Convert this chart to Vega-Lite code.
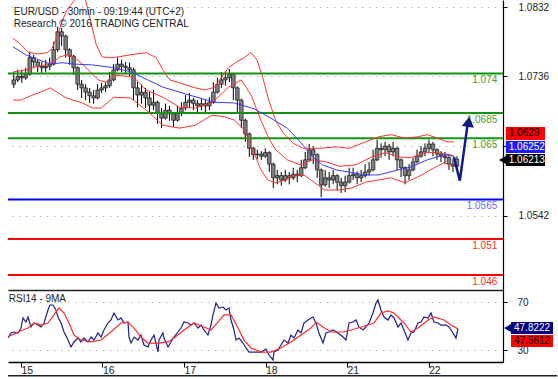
{
  "$schema": "https://vega.github.io/schema/vega-lite/v6.json",
  "background": "#ffffff",
  "padding": {"left": 7, "top": 0, "right": 0, "bottom": 0},
  "spacing": 0,
  "config": {
    "view": {"stroke": null},
    "font": "Liberation Sans",
    "axis": {"labelFont": "Liberation Sans", "labelFontSize": 10, "labelColor": "#222222", "domainColor": "#000000", "tickColor": "#000000", "title": null},
    "axisX": {"grid": false},
    "axisY": {"grid": true, "gridDash": [1.5, 5.5], "gridColor": "#b5b5b5", "gridWidth": 1.2}
  },
  "resolve": {"scale": {"color": "independent", "fill": "independent", "stroke": "independent"}},
  "datasets": {
    "bars": [
      {"t":-0.15,"o":1.0725,"h":1.0742,"l":1.0720,"c":1.0731},
      {"t":-0.10,"o":1.0731,"h":1.0745,"l":1.0728,"c":1.0736},
      {"t":-0.05,"o":1.0736,"h":1.0745,"l":1.0727,"c":1.0734},
      {"t":0.00,"o":1.0734,"h":1.0748,"l":1.0731,"c":1.0739},
      {"t":0.05,"o":1.0739,"h":1.0770,"l":1.0737,"c":1.0762},
      {"t":0.10,"o":1.0762,"h":1.0766,"l":1.0748,"c":1.0756},
      {"t":0.15,"o":1.0756,"h":1.0759,"l":1.0742,"c":1.0750},
      {"t":0.20,"o":1.0750,"h":1.0756,"l":1.0741,"c":1.0748},
      {"t":0.25,"o":1.0748,"h":1.0759,"l":1.0742,"c":1.0750},
      {"t":0.30,"o":1.0750,"h":1.0762,"l":1.0745,"c":1.0753},
      {"t":0.35,"o":1.0753,"h":1.0784,"l":1.0751,"c":1.0773},
      {"t":0.40,"o":1.0773,"h":1.0805,"l":1.0770,"c":1.0798},
      {"t":0.45,"o":1.0798,"h":1.0803,"l":1.0778,"c":1.0792},
      {"t":0.50,"o":1.0792,"h":1.0794,"l":1.0762,"c":1.0773},
      {"t":0.55,"o":1.0773,"h":1.0775,"l":1.0752,"c":1.0764},
      {"t":0.60,"o":1.0764,"h":1.0766,"l":1.0738,"c":1.0748},
      {"t":0.65,"o":1.0748,"h":1.0750,"l":1.0717,"c":1.0725},
      {"t":0.70,"o":1.0725,"h":1.0731,"l":1.0706,"c":1.0720},
      {"t":0.75,"o":1.0720,"h":1.0725,"l":1.0703,"c":1.0714},
      {"t":0.80,"o":1.0714,"h":1.0720,"l":1.0699,"c":1.0709},
      {"t":0.85,"o":1.0709,"h":1.0717,"l":1.0698,"c":1.0706},
      {"t":0.90,"o":1.0706,"h":1.0725,"l":1.0704,"c":1.0717},
      {"t":0.95,"o":1.0717,"h":1.0727,"l":1.0713,"c":1.0720},
      {"t":1.00,"o":1.0720,"h":1.0728,"l":1.0714,"c":1.0723},
      {"t":1.05,"o":1.0723,"h":1.0742,"l":1.0720,"c":1.0731},
      {"t":1.10,"o":1.0731,"h":1.0753,"l":1.0729,"c":1.0745},
      {"t":1.15,"o":1.0745,"h":1.0762,"l":1.0743,"c":1.0753},
      {"t":1.20,"o":1.0753,"h":1.0759,"l":1.0742,"c":1.0750},
      {"t":1.25,"o":1.0750,"h":1.0756,"l":1.0739,"c":1.0748},
      {"t":1.30,"o":1.0748,"h":1.0755,"l":1.0736,"c":1.0745},
      {"t":1.35,"o":1.0745,"h":1.0748,"l":1.0703,"c":1.0720},
      {"t":1.40,"o":1.0720,"h":1.0728,"l":1.0693,"c":1.0710},
      {"t":1.45,"o":1.0710,"h":1.0725,"l":1.0698,"c":1.0714},
      {"t":1.50,"o":1.0714,"h":1.0720,"l":1.0692,"c":1.0706},
      {"t":1.55,"o":1.0706,"h":1.0714,"l":1.0686,"c":1.0696},
      {"t":1.60,"o":1.0696,"h":1.0717,"l":1.0689,"c":1.0700},
      {"t":1.65,"o":1.0700,"h":1.0702,"l":1.0670,"c":1.0686},
      {"t":1.70,"o":1.0686,"h":1.0692,"l":1.0664,"c":1.0678},
      {"t":1.75,"o":1.0678,"h":1.0698,"l":1.0676,"c":1.0689},
      {"t":1.80,"o":1.0689,"h":1.0695,"l":1.0674,"c":1.0684},
      {"t":1.85,"o":1.0684,"h":1.0686,"l":1.0666,"c":1.0675},
      {"t":1.90,"o":1.0675,"h":1.0695,"l":1.0673,"c":1.0686},
      {"t":1.95,"o":1.0686,"h":1.0700,"l":1.0681,"c":1.0692},
      {"t":2.00,"o":1.0692,"h":1.0710,"l":1.0689,"c":1.0700},
      {"t":2.05,"o":1.0700,"h":1.0713,"l":1.0692,"c":1.0703},
      {"t":2.10,"o":1.0703,"h":1.0706,"l":1.0689,"c":1.0698},
      {"t":2.15,"o":1.0698,"h":1.0703,"l":1.0686,"c":1.0695},
      {"t":2.20,"o":1.0695,"h":1.0706,"l":1.0689,"c":1.0698},
      {"t":2.25,"o":1.0698,"h":1.0703,"l":1.0686,"c":1.0695},
      {"t":2.30,"o":1.0695,"h":1.0707,"l":1.0689,"c":1.0700},
      {"t":2.35,"o":1.0700,"h":1.0728,"l":1.0698,"c":1.0714},
      {"t":2.40,"o":1.0714,"h":1.0734,"l":1.0712,"c":1.0725},
      {"t":2.45,"o":1.0725,"h":1.0742,"l":1.0720,"c":1.0731},
      {"t":2.50,"o":1.0731,"h":1.0743,"l":1.0723,"c":1.0734},
      {"t":2.55,"o":1.0734,"h":1.0746,"l":1.0728,"c":1.0739},
      {"t":2.60,"o":1.0739,"h":1.0741,"l":1.0703,"c":1.0720},
      {"t":2.65,"o":1.0720,"h":1.0722,"l":1.0686,"c":1.0703},
      {"t":2.70,"o":1.0703,"h":1.0705,"l":1.0664,"c":1.0675},
      {"t":2.75,"o":1.0675,"h":1.0677,"l":1.0645,"c":1.0656},
      {"t":2.80,"o":1.0656,"h":1.0658,"l":1.0624,"c":1.0636},
      {"t":2.85,"o":1.0636,"h":1.0638,"l":1.0620,"c":1.0627},
      {"t":2.90,"o":1.0627,"h":1.0634,"l":1.0621,"c":1.0628},
      {"t":2.95,"o":1.0628,"h":1.0632,"l":1.0620,"c":1.0625},
      {"t":3.00,"o":1.0625,"h":1.0636,"l":1.0623,"c":1.0630},
      {"t":3.05,"o":1.0630,"h":1.0632,"l":1.0603,"c":1.0614},
      {"t":3.10,"o":1.0614,"h":1.0616,"l":1.0581,"c":1.0595},
      {"t":3.15,"o":1.0595,"h":1.0606,"l":1.0586,"c":1.0598},
      {"t":3.20,"o":1.0598,"h":1.0603,"l":1.0584,"c":1.0592},
      {"t":3.25,"o":1.0592,"h":1.0606,"l":1.0589,"c":1.0598},
      {"t":3.30,"o":1.0598,"h":1.0603,"l":1.0586,"c":1.0595},
      {"t":3.35,"o":1.0595,"h":1.0609,"l":1.0592,"c":1.0600},
      {"t":3.40,"o":1.0600,"h":1.0606,"l":1.0589,"c":1.0598},
      {"t":3.45,"o":1.0598,"h":1.0620,"l":1.0596,"c":1.0609},
      {"t":3.50,"o":1.0609,"h":1.0631,"l":1.0607,"c":1.0620},
      {"t":3.55,"o":1.0620,"h":1.0642,"l":1.0618,"c":1.0634},
      {"t":3.60,"o":1.0634,"h":1.0639,"l":1.0614,"c":1.0627},
      {"t":3.65,"o":1.0627,"h":1.0629,"l":1.0595,"c":1.0606},
      {"t":3.70,"o":1.0606,"h":1.0608,"l":1.0568,"c":1.0585},
      {"t":3.75,"o":1.0585,"h":1.0606,"l":1.0583,"c":1.0595},
      {"t":3.80,"o":1.0595,"h":1.0603,"l":1.0581,"c":1.0592},
      {"t":3.85,"o":1.0592,"h":1.0606,"l":1.0586,"c":1.0598},
      {"t":3.90,"o":1.0598,"h":1.0600,"l":1.0578,"c":1.0589},
      {"t":3.95,"o":1.0589,"h":1.0595,"l":1.0574,"c":1.0584},
      {"t":4.00,"o":1.0584,"h":1.0598,"l":1.0575,"c":1.0589},
      {"t":4.05,"o":1.0589,"h":1.0609,"l":1.0587,"c":1.0598},
      {"t":4.10,"o":1.0598,"h":1.0609,"l":1.0592,"c":1.0600},
      {"t":4.15,"o":1.0600,"h":1.0604,"l":1.0586,"c":1.0595},
      {"t":4.20,"o":1.0595,"h":1.0606,"l":1.0589,"c":1.0598},
      {"t":4.25,"o":1.0598,"h":1.0614,"l":1.0595,"c":1.0603},
      {"t":4.30,"o":1.0603,"h":1.0617,"l":1.0598,"c":1.0606},
      {"t":4.35,"o":1.0606,"h":1.0634,"l":1.0604,"c":1.0620},
      {"t":4.40,"o":1.0620,"h":1.0648,"l":1.0618,"c":1.0636},
      {"t":4.45,"o":1.0636,"h":1.0643,"l":1.0623,"c":1.0634},
      {"t":4.50,"o":1.0634,"h":1.0645,"l":1.0625,"c":1.0639},
      {"t":4.55,"o":1.0639,"h":1.0642,"l":1.0620,"c":1.0631},
      {"t":4.60,"o":1.0631,"h":1.0645,"l":1.0625,"c":1.0636},
      {"t":4.65,"o":1.0636,"h":1.0638,"l":1.0606,"c":1.0620},
      {"t":4.70,"o":1.0620,"h":1.0622,"l":1.0596,"c":1.0609},
      {"t":4.75,"o":1.0609,"h":1.0611,"l":1.0586,"c":1.0598},
      {"t":4.80,"o":1.0598,"h":1.0614,"l":1.0592,"c":1.0606},
      {"t":4.85,"o":1.0606,"h":1.0623,"l":1.0604,"c":1.0617},
      {"t":4.90,"o":1.0617,"h":1.0634,"l":1.0615,"c":1.0625},
      {"t":4.95,"o":1.0625,"h":1.0639,"l":1.0623,"c":1.0631},
      {"t":5.00,"o":1.0631,"h":1.0643,"l":1.0625,"c":1.0636},
      {"t":5.05,"o":1.0636,"h":1.0648,"l":1.0631,"c":1.0642},
      {"t":5.10,"o":1.0642,"h":1.0645,"l":1.0625,"c":1.0634},
      {"t":5.15,"o":1.0634,"h":1.0636,"l":1.0620,"c":1.0628},
      {"t":5.20,"o":1.0628,"h":1.0632,"l":1.0617,"c":1.0625},
      {"t":5.25,"o":1.0625,"h":1.0631,"l":1.0614,"c":1.0623},
      {"t":5.30,"o":1.0623,"h":1.0625,"l":1.0606,"c":1.0614},
      {"t":5.35,"o":1.0614,"h":1.0621,"l":1.0603,"c":1.0611},
      {"t":5.40,"o":1.0611,"h":1.0625,"l":1.0609,"c":1.0621}
    ],
    "bands": [
      {"t":-0.160,"p":1.0789,"s":"up"},{"t":-0.061,"p":1.0780,"s":"up"},{"t":0.025,"p":1.0770,"s":"up"},{"t":0.147,"p":1.0767,"s":"up"},{"t":0.270,"p":1.0769,"s":"up"},{"t":0.331,"p":1.0775,"s":"up"},{"t":0.393,"p":1.0792,"s":"up"},{"t":0.454,"p":1.0812,"s":"up"},{"t":0.515,"p":1.0828,"s":"up"},{"t":0.589,"p":1.0839,"s":"up"},{"t":0.663,"p":1.0848,"s":"up"},{"t":0.736,"p":1.0848,"s":"up"},{"t":0.810,"p":1.0814,"s":"up"},{"t":0.883,"p":1.0780,"s":"up"},{"t":0.957,"p":1.0763,"s":"up"},{"t":1.043,"p":1.0762,"s":"up"},{"t":1.104,"p":1.0762,"s":"up"},{"t":1.313,"p":1.0766,"s":"up"},{"t":1.509,"p":1.0769,"s":"up"},{"t":1.632,"p":1.0762,"s":"up"},{"t":1.718,"p":1.0745,"s":"up"},{"t":1.804,"p":1.0731,"s":"up"},{"t":1.926,"p":1.0727,"s":"up"},{"t":2.086,"p":1.0721,"s":"up"},{"t":2.245,"p":1.0717,"s":"up"},{"t":2.368,"p":1.0721,"s":"up"},{"t":2.454,"p":1.0735,"s":"up"},{"t":2.540,"p":1.0748,"s":"up"},{"t":2.638,"p":1.0756,"s":"up"},{"t":2.736,"p":1.0762,"s":"up"},{"t":2.822,"p":1.0769,"s":"up"},{"t":2.896,"p":1.0759,"s":"up"},{"t":2.969,"p":1.0734,"s":"up"},{"t":3.043,"p":1.0703,"s":"up"},{"t":3.129,"p":1.0675,"s":"up"},{"t":3.227,"p":1.0657,"s":"up"},{"t":3.350,"p":1.0643,"s":"up"},{"t":3.472,"p":1.0636,"s":"up"},{"t":3.681,"p":1.0636,"s":"up"},{"t":3.890,"p":1.0638,"s":"up"},{"t":4.049,"p":1.0636,"s":"up"},{"t":4.258,"p":1.0645,"s":"up"},{"t":4.417,"p":1.0652,"s":"up"},{"t":4.577,"p":1.0655,"s":"up"},{"t":4.748,"p":1.0650,"s":"up"},{"t":4.908,"p":1.0652,"s":"up"},{"t":5.031,"p":1.0655,"s":"up"},{"t":5.153,"p":1.0650,"s":"up"},{"t":5.276,"p":1.0645,"s":"up"},{"t":5.362,"p":1.0645,"s":"up"},
      {"t":-0.160,"p":1.0742,"s":"mid"},{"t":0.000,"p":1.0745,"s":"mid"},{"t":0.123,"p":1.0749,"s":"mid"},{"t":0.245,"p":1.0752,"s":"mid"},{"t":0.344,"p":1.0756,"s":"mid"},{"t":0.429,"p":1.0763,"s":"mid"},{"t":0.515,"p":1.0766,"s":"mid"},{"t":0.613,"p":1.0762,"s":"mid"},{"t":0.712,"p":1.0753,"s":"mid"},{"t":0.810,"p":1.0742,"s":"mid"},{"t":0.908,"p":1.0731,"s":"mid"},{"t":1.006,"p":1.0728,"s":"mid"},{"t":1.104,"p":1.0738,"s":"mid"},{"t":1.350,"p":1.0735,"s":"mid"},{"t":1.509,"p":1.0717,"s":"mid"},{"t":1.718,"p":1.0707,"s":"mid"},{"t":1.926,"p":1.0693,"s":"mid"},{"t":2.123,"p":1.0692,"s":"mid"},{"t":2.331,"p":1.0699,"s":"mid"},{"t":2.540,"p":1.0721,"s":"mid"},{"t":2.699,"p":1.0731,"s":"mid"},{"t":2.822,"p":1.0710,"s":"mid"},{"t":2.945,"p":1.0675,"s":"mid"},{"t":3.043,"p":1.0650,"s":"mid"},{"t":3.129,"p":1.0634,"s":"mid"},{"t":3.276,"p":1.0620,"s":"mid"},{"t":3.436,"p":1.0613,"s":"mid"},{"t":3.595,"p":1.0620,"s":"mid"},{"t":3.767,"p":1.0617,"s":"mid"},{"t":3.926,"p":1.0611,"s":"mid"},{"t":4.135,"p":1.0613,"s":"mid"},{"t":4.331,"p":1.0624,"s":"mid"},{"t":4.503,"p":1.0630,"s":"mid"},{"t":4.663,"p":1.0624,"s":"mid"},{"t":4.822,"p":1.0623,"s":"mid"},{"t":4.994,"p":1.0630,"s":"mid"},{"t":5.153,"p":1.0630,"s":"mid"},{"t":5.313,"p":1.0627,"s":"mid"},{"t":5.362,"p":1.0625,"s":"mid"},
      {"t":-0.160,"p":1.0703,"s":"lo"},{"t":-0.061,"p":1.0703,"s":"lo"},{"t":0.061,"p":1.0709,"s":"lo"},{"t":0.184,"p":1.0714,"s":"lo"},{"t":0.307,"p":1.0720,"s":"lo"},{"t":0.393,"p":1.0714,"s":"lo"},{"t":0.491,"p":1.0707,"s":"lo"},{"t":0.589,"p":1.0703,"s":"lo"},{"t":0.712,"p":1.0699,"s":"lo"},{"t":0.834,"p":1.0692,"s":"lo"},{"t":0.945,"p":1.0692,"s":"lo"},{"t":1.031,"p":1.0700,"s":"lo"},{"t":1.104,"p":1.0707,"s":"lo"},{"t":1.313,"p":1.0706,"s":"lo"},{"t":1.509,"p":1.0689,"s":"lo"},{"t":1.718,"p":1.0668,"s":"lo"},{"t":1.926,"p":1.0664,"s":"lo"},{"t":2.123,"p":1.0668,"s":"lo"},{"t":2.331,"p":1.0682,"s":"lo"},{"t":2.491,"p":1.0680,"s":"lo"},{"t":2.613,"p":1.0675,"s":"lo"},{"t":2.736,"p":1.0662,"s":"lo"},{"t":2.859,"p":1.0630,"s":"lo"},{"t":2.945,"p":1.0606,"s":"lo"},{"t":3.031,"p":1.0592,"s":"lo"},{"t":3.129,"p":1.0588,"s":"lo"},{"t":3.252,"p":1.0592,"s":"lo"},{"t":3.374,"p":1.0599,"s":"lo"},{"t":3.497,"p":1.0598,"s":"lo"},{"t":3.620,"p":1.0588,"s":"lo"},{"t":3.742,"p":1.0578,"s":"lo"},{"t":3.926,"p":1.0578,"s":"lo"},{"t":4.086,"p":1.0581,"s":"lo"},{"t":4.258,"p":1.0589,"s":"lo"},{"t":4.417,"p":1.0592,"s":"lo"},{"t":4.577,"p":1.0595,"s":"lo"},{"t":4.748,"p":1.0588,"s":"lo"},{"t":4.908,"p":1.0596,"s":"lo"},{"t":5.067,"p":1.0606,"s":"lo"},{"t":5.239,"p":1.0616,"s":"lo"},{"t":5.362,"p":1.0611,"s":"lo"},
      {"t":-0.160,"p":1.0777,"s":"ma"},{"t":0.000,"p":1.0766,"s":"ma"},{"t":0.160,"p":1.0759,"s":"ma"},{"t":0.307,"p":1.0753,"s":"ma"},{"t":0.454,"p":1.0755,"s":"ma"},{"t":0.613,"p":1.0753,"s":"ma"},{"t":0.822,"p":1.0752,"s":"ma"},{"t":1.104,"p":1.0748,"s":"ma"},{"t":1.325,"p":1.0742,"s":"ma"},{"t":1.472,"p":1.0734,"s":"ma"},{"t":1.718,"p":1.0721,"s":"ma"},{"t":2.049,"p":1.0710,"s":"ma"},{"t":2.368,"p":1.0700,"s":"ma"},{"t":2.613,"p":1.0699,"s":"ma"},{"t":2.859,"p":1.0691,"s":"ma"},{"t":3.067,"p":1.0678,"s":"ma"},{"t":3.276,"p":1.0664,"s":"ma"},{"t":3.436,"p":1.0645,"s":"ma"},{"t":3.595,"p":1.0624,"s":"ma"},{"t":3.718,"p":1.0613,"s":"ma"},{"t":3.890,"p":1.0606,"s":"ma"},{"t":4.049,"p":1.0603,"s":"ma"},{"t":4.258,"p":1.0599,"s":"ma"},{"t":4.417,"p":1.0599,"s":"ma"},{"t":4.663,"p":1.0606,"s":"ma"},{"t":4.822,"p":1.0610,"s":"ma"},{"t":5.031,"p":1.0620,"s":"ma"},{"t":5.239,"p":1.0627,"s":"ma"},{"t":5.362,"p":1.0625,"s":"ma"}
    ],
    "levels": [
      {"p":1.074,"lab":"1.074","k":"res"},
      {"p":1.0685,"lab":"1.0685","k":"res"},
      {"p":1.065,"lab":"1.065","k":"res"},
      {"p":1.0565,"lab":"1.0565","k":"piv"},
      {"p":1.051,"lab":"1.051","k":"sup"},
      {"p":1.046,"lab":"1.046","k":"sup"}
    ],
    "arrow": [
      {"t":5.362,"p":1.0624},
      {"t":5.436,"p":1.0591},
      {"t":5.534,"p":1.0670}
    ],
    "tags": [
      {"v":"1.0629","top":1.06656,"bot":1.06476,"mid":1.06566,"k":"r"},
      {"v":"1.06252","top":1.06462,"bot":1.06295,"mid":1.06379,"k":"b"},
      {"v":"1.06213","top":1.06281,"bot":1.06114,"mid":1.06198,"k":"k"}
    ],
    "rsi": [
      {"t":-0.160,"v":40.0,"s":"rsi"},{"t":-0.123,"v":44.2,"s":"rsi"},{"t":-0.086,"v":45.0,"s":"rsi"},{"t":-0.037,"v":44.2,"s":"rsi"},{"t":0.000,"v":48.3,"s":"rsi"},{"t":0.025,"v":56.7,"s":"rsi"},{"t":0.061,"v":53.3,"s":"rsi"},{"t":0.086,"v":57.5,"s":"rsi"},{"t":0.123,"v":49.2,"s":"rsi"},{"t":0.160,"v":52.5,"s":"rsi"},{"t":0.209,"v":50.8,"s":"rsi"},{"t":0.245,"v":49.2,"s":"rsi"},{"t":0.282,"v":52.5,"s":"rsi"},{"t":0.331,"v":63.3,"s":"rsi"},{"t":0.356,"v":67.5,"s":"rsi"},{"t":0.393,"v":67.5,"s":"rsi"},{"t":0.429,"v":63.3,"s":"rsi"},{"t":0.454,"v":57.5,"s":"rsi"},{"t":0.491,"v":52.5,"s":"rsi"},{"t":0.528,"v":45.0,"s":"rsi"},{"t":0.577,"v":38.3,"s":"rsi"},{"t":0.613,"v":32.5,"s":"rsi"},{"t":0.650,"v":36.7,"s":"rsi"},{"t":0.699,"v":40.0,"s":"rsi"},{"t":0.736,"v":36.7,"s":"rsi"},{"t":0.773,"v":40.0,"s":"rsi"},{"t":0.822,"v":36.7,"s":"rsi"},{"t":0.859,"v":40.8,"s":"rsi"},{"t":0.896,"v":38.3,"s":"rsi"},{"t":0.945,"v":44.2,"s":"rsi"},{"t":0.982,"v":40.8,"s":"rsi"},{"t":1.018,"v":46.7,"s":"rsi"},{"t":1.067,"v":52.5,"s":"rsi"},{"t":1.104,"v":55.0,"s":"rsi"},{"t":1.141,"v":60.8,"s":"rsi"},{"t":1.190,"v":55.0,"s":"rsi"},{"t":1.227,"v":56.7,"s":"rsi"},{"t":1.264,"v":52.5,"s":"rsi"},{"t":1.313,"v":53.3,"s":"rsi"},{"t":1.325,"v":40.8,"s":"rsi"},{"t":1.350,"v":35.8,"s":"rsi"},{"t":1.387,"v":40.8,"s":"rsi"},{"t":1.436,"v":38.3,"s":"rsi"},{"t":1.472,"v":42.5,"s":"rsi"},{"t":1.509,"v":34.2,"s":"rsi"},{"t":1.558,"v":32.5,"s":"rsi"},{"t":1.595,"v":38.3,"s":"rsi"},{"t":1.632,"v":42.5,"s":"rsi"},{"t":1.681,"v":28.3,"s":"rsi"},{"t":1.693,"v":38.3,"s":"rsi"},{"t":1.742,"v":44.2,"s":"rsi"},{"t":1.755,"v":40.0,"s":"rsi"},{"t":1.804,"v":32.5,"s":"rsi"},{"t":1.840,"v":36.7,"s":"rsi"},{"t":1.877,"v":40.8,"s":"rsi"},{"t":1.926,"v":45.0,"s":"rsi"},{"t":1.963,"v":48.3,"s":"rsi"},{"t":2.000,"v":53.3,"s":"rsi"},{"t":2.049,"v":52.5,"s":"rsi"},{"t":2.086,"v":50.8,"s":"rsi"},{"t":2.123,"v":52.5,"s":"rsi"},{"t":2.172,"v":48.3,"s":"rsi"},{"t":2.209,"v":50.8,"s":"rsi"},{"t":2.245,"v":46.7,"s":"rsi"},{"t":2.294,"v":42.5,"s":"rsi"},{"t":2.331,"v":50.8,"s":"rsi"},{"t":2.356,"v":59.2,"s":"rsi"},{"t":2.393,"v":69.2,"s":"rsi"},{"t":2.429,"v":65.0,"s":"rsi"},{"t":2.479,"v":65.8,"s":"rsi"},{"t":2.515,"v":63.3,"s":"rsi"},{"t":2.552,"v":65.0,"s":"rsi"},{"t":2.577,"v":55.0,"s":"rsi"},{"t":2.613,"v":46.7,"s":"rsi"},{"t":2.638,"v":38.3,"s":"rsi"},{"t":2.675,"v":40.0,"s":"rsi"},{"t":2.724,"v":35.8,"s":"rsi"},{"t":2.761,"v":31.7,"s":"rsi"},{"t":2.798,"v":28.3,"s":"rsi"},{"t":2.859,"v":28.3,"s":"rsi"},{"t":2.945,"v":28.3,"s":"rsi"},{"t":3.006,"v":30.8,"s":"rsi"},{"t":3.043,"v":25.8,"s":"rsi"},{"t":3.092,"v":21.7,"s":"rsi"},{"t":3.104,"v":28.3,"s":"rsi"},{"t":3.153,"v":30.0,"s":"rsi"},{"t":3.190,"v":34.2,"s":"rsi"},{"t":3.227,"v":38.3,"s":"rsi"},{"t":3.276,"v":35.8,"s":"rsi"},{"t":3.313,"v":42.5,"s":"rsi"},{"t":3.350,"v":40.0,"s":"rsi"},{"t":3.399,"v":46.7,"s":"rsi"},{"t":3.436,"v":44.2,"s":"rsi"},{"t":3.472,"v":52.5,"s":"rsi"},{"t":3.521,"v":55.0,"s":"rsi"},{"t":3.558,"v":56.7,"s":"rsi"},{"t":3.583,"v":57.5,"s":"rsi"},{"t":3.620,"v":52.5,"s":"rsi"},{"t":3.656,"v":44.2,"s":"rsi"},{"t":3.706,"v":35.8,"s":"rsi"},{"t":3.742,"v":44.2,"s":"rsi"},{"t":3.779,"v":45.0,"s":"rsi"},{"t":3.828,"v":46.7,"s":"rsi"},{"t":3.890,"v":44.2,"s":"rsi"},{"t":3.951,"v":40.8,"s":"rsi"},{"t":3.988,"v":38.3,"s":"rsi"},{"t":4.025,"v":52.5,"s":"rsi"},{"t":4.074,"v":53.3,"s":"rsi"},{"t":4.110,"v":55.0,"s":"rsi"},{"t":4.147,"v":49.2,"s":"rsi"},{"t":4.196,"v":46.7,"s":"rsi"},{"t":4.233,"v":49.2,"s":"rsi"},{"t":4.270,"v":52.5,"s":"rsi"},{"t":4.319,"v":60.8,"s":"rsi"},{"t":4.356,"v":69.2,"s":"rsi"},{"t":4.380,"v":71.7,"s":"rsi"},{"t":4.417,"v":63.3,"s":"rsi"},{"t":4.454,"v":57.5,"s":"rsi"},{"t":4.503,"v":55.0,"s":"rsi"},{"t":4.540,"v":59.2,"s":"rsi"},{"t":4.577,"v":56.7,"s":"rsi"},{"t":4.626,"v":49.2,"s":"rsi"},{"t":4.663,"v":52.5,"s":"rsi"},{"t":4.699,"v":46.7,"s":"rsi"},{"t":4.748,"v":38.3,"s":"rsi"},{"t":4.785,"v":44.2,"s":"rsi"},{"t":4.822,"v":45.0,"s":"rsi"},{"t":4.871,"v":52.5,"s":"rsi"},{"t":4.908,"v":53.3,"s":"rsi"},{"t":4.945,"v":57.5,"s":"rsi"},{"t":4.994,"v":56.7,"s":"rsi"},{"t":5.031,"v":60.8,"s":"rsi"},{"t":5.067,"v":53.3,"s":"rsi"},{"t":5.117,"v":52.5,"s":"rsi"},{"t":5.153,"v":50.8,"s":"rsi"},{"t":5.215,"v":50.8,"s":"rsi"},{"t":5.252,"v":49.2,"s":"rsi"},{"t":5.301,"v":44.2,"s":"rsi"},{"t":5.337,"v":40.0,"s":"rsi"},{"t":5.362,"v":47.8,"s":"rsi"},
      {"t":-0.160,"v":40.8,"s":"ma"},{"t":-0.037,"v":45.0,"s":"ma"},{"t":0.086,"v":48.3,"s":"ma"},{"t":0.160,"v":52.5,"s":"ma"},{"t":0.245,"v":50.8,"s":"ma"},{"t":0.331,"v":52.5,"s":"ma"},{"t":0.405,"v":59.2,"s":"ma"},{"t":0.466,"v":65.0,"s":"ma"},{"t":0.528,"v":60.8,"s":"ma"},{"t":0.589,"v":52.5,"s":"ma"},{"t":0.650,"v":42.5,"s":"ma"},{"t":0.736,"v":38.3,"s":"ma"},{"t":0.859,"v":36.7,"s":"ma"},{"t":0.982,"v":38.3,"s":"ma"},{"t":1.104,"v":45.0,"s":"ma"},{"t":1.227,"v":52.5,"s":"ma"},{"t":1.313,"v":53.3,"s":"ma"},{"t":1.387,"v":48.3,"s":"ma"},{"t":1.472,"v":40.8,"s":"ma"},{"t":1.558,"v":35.8,"s":"ma"},{"t":1.681,"v":35.8,"s":"ma"},{"t":1.804,"v":36.7,"s":"ma"},{"t":1.877,"v":40.0,"s":"ma"},{"t":2.000,"v":46.7,"s":"ma"},{"t":2.123,"v":52.5,"s":"ma"},{"t":2.245,"v":49.2,"s":"ma"},{"t":2.331,"v":46.7,"s":"ma"},{"t":2.417,"v":53.3,"s":"ma"},{"t":2.491,"v":59.2,"s":"ma"},{"t":2.577,"v":59.2,"s":"ma"},{"t":2.663,"v":48.3,"s":"ma"},{"t":2.736,"v":38.3,"s":"ma"},{"t":2.822,"v":31.7,"s":"ma"},{"t":2.945,"v":28.3,"s":"ma"},{"t":3.067,"v":28.3,"s":"ma"},{"t":3.190,"v":31.7,"s":"ma"},{"t":3.313,"v":36.7,"s":"ma"},{"t":3.436,"v":42.5,"s":"ma"},{"t":3.558,"v":48.3,"s":"ma"},{"t":3.620,"v":53.3,"s":"ma"},{"t":3.706,"v":49.2,"s":"ma"},{"t":3.804,"v":45.0,"s":"ma"},{"t":3.963,"v":45.0,"s":"ma"},{"t":4.135,"v":48.3,"s":"ma"},{"t":4.258,"v":50.8,"s":"ma"},{"t":4.331,"v":52.5,"s":"ma"},{"t":4.417,"v":60.8,"s":"ma"},{"t":4.503,"v":62.5,"s":"ma"},{"t":4.577,"v":60.8,"s":"ma"},{"t":4.699,"v":52.5,"s":"ma"},{"t":4.785,"v":45.0,"s":"ma"},{"t":4.871,"v":48.3,"s":"ma"},{"t":4.994,"v":55.0,"s":"ma"},{"t":5.067,"v":57.5,"s":"ma"},{"t":5.190,"v":55.0,"s":"ma"},{"t":5.276,"v":50.8,"s":"ma"},{"t":5.362,"v":47.6,"s":"ma"}
    ],
    "rsitags": [
      {"v":"47.8222","top":53.3,"bot":43.3,"mid":48.3,"k":"n"},
      {"v":"47.5612","top":42.5,"bot":32.5,"mid":37.5,"k":"r"}
    ]
  },
  "vconcat": [
    {
      "width": 495,
      "height": 290,
      "layer": [
        {
          "data": {"name": "bars"},
          "mark": {"type": "rule", "color": "#000000", "strokeWidth": 1},
          "encoding": {
            "x": {"field": "t", "type": "quantitative", "scale": {"domain": [-0.1595, 5.9141], "nice": false, "zero": false},
                  "axis": {"orient": "bottom", "labels": false, "ticks": false, "domain": true, "domainColor": "#222222", "domainWidth": 1.5, "grid": false}},
            "y": {"field": "l", "type": "quantitative", "scale": {"domain": [1.04391, 1.08421], "nice": false, "zero": false},
                  "axis": {"orient": "right", "values": [1.0832, 1.0736, 1.0639, 1.0542], "format": ".4f", "labelExpr": "datum.value == 1.0639 ? '' : datum.label", "tickSize": 4, "labelPadding": 11, "domainWidth": 1.2}},
            "y2": {"field": "h"}
          }
        },
        {
          "data": {"name": "bars"},
          "mark": {"type": "bar", "size": 3.6, "fill": "#7f7f7f", "stroke": "#000000", "strokeWidth": 0.6},
          "encoding": {
            "x": {"field": "t", "type": "quantitative"},
            "y": {"field": "o", "type": "quantitative"},
            "y2": {"field": "c"}
          }
        },
        {
          "data": {"name": "levels"},
          "mark": {"type": "rule", "strokeWidth": 2},
          "encoding": {
            "y": {"field": "p", "type": "quantitative"},
            "stroke": {"field": "k", "type": "nominal", "legend": null,
                       "scale": {"domain": ["up", "mid", "lo", "ma", "res", "piv", "sup"], "range": ["#ff3232", "#ff3232", "#ff3232", "#3a3aff", "#129412", "#0000ff", "#ff0000"]}}
          }
        },
        {
          "data": {"name": "bands"},
          "mark": {"type": "line", "strokeWidth": 1, "clip": true},
          "encoding": {
            "x": {"field": "t", "type": "quantitative"},
            "y": {"field": "p", "type": "quantitative"},
            "stroke": {"field": "s", "type": "nominal", "legend": null,
                       "scale": {"domain": ["up", "mid", "lo", "ma", "res", "piv", "sup"], "range": ["#ff3232", "#ff3232", "#ff3232", "#3a3aff", "#129412", "#0000ff", "#ff0000"]}}
          }
        },
        {
          "data": {"name": "levels"},
          "mark": {"type": "text", "align": "right", "baseline": "alphabetic", "dy": 10, "fontSize": 10, "font": "Liberation Sans"},
          "encoding": {
            "x": {"datum": 5.905, "type": "quantitative"},
            "y": {"field": "p", "type": "quantitative"},
            "text": {"field": "lab"},
            "fill": {"field": "k", "type": "nominal", "legend": null,
                     "scale": {"domain": ["res", "piv", "sup", "r", "b", "k"], "range": ["#4c9e2f", "#6a6aff", "#ff2a2a", "#000000", "#ffffff", "#ffffff"]}}
          }
        },
        {
          "data": {"name": "arrow"},
          "mark": {"type": "line", "color": "#101a8a", "strokeWidth": 2.5},
          "encoding": {
            "x": {"field": "t", "type": "quantitative"},
            "y": {"field": "p", "type": "quantitative"}
          }
        },
        {
          "data": {"values": [{}]},
          "mark": {"type": "point", "shape": "triangle-up", "filled": true, "size": 150, "angle": 8, "color": "#101a8a", "opacity": 1},
          "encoding": {
            "x": {"datum": 5.546, "type": "quantitative"},
            "y": {"datum": 1.0673, "type": "quantitative"}
          }
        },
        {
          "data": {"name": "tags"},
          "mark": {"type": "rect", "clip": false},
          "encoding": {
            "x": {"datum": 6.012, "type": "quantitative"},
            "x2": {"datum": 6.503},
            "y": {"field": "top", "type": "quantitative"},
            "y2": {"field": "bot"},
            "color": {"field": "k", "type": "nominal", "legend": null,
                      "scale": {"domain": ["r", "b", "k"], "range": ["#ff0000", "#1c1cff", "#000000"]}}
          }
        },
        {
          "data": {"name": "tags"},
          "transform": [{"filter": "datum.k == 'k'"}],
          "mark": {"type": "point", "shape": "triangle-left", "filled": true, "size": 130, "color": "#000000", "opacity": 1},
          "encoding": {
            "x": {"datum": 5.988, "type": "quantitative"},
            "y": {"field": "mid", "type": "quantitative"}
          }
        },
        {
          "data": {"name": "tags"},
          "mark": {"type": "text", "align": "left", "baseline": "middle", "fontSize": 10, "font": "Liberation Sans"},
          "encoding": {
            "x": {"datum": 6.049, "type": "quantitative"},
            "y": {"field": "mid", "type": "quantitative"},
            "text": {"field": "v"},
            "fill": {"field": "k", "type": "nominal", "legend": null,
                     "scale": {"domain": ["res", "piv", "sup", "r", "b", "k"], "range": ["#4c9e2f", "#6a6aff", "#ff2a2a", "#000000", "#ffffff", "#ffffff"]}}
          }
        },
        {
          "data": {"values": [{}]},
          "mark": {"type": "text", "text": "EUR/USD - 30min - 09:19:44 (UTC+2)", "align": "left", "baseline": "alphabetic", "fontSize": 10, "font": "Liberation Sans", "color": "#222222"},
          "encoding": {
            "x": {"datum": -0.15, "type": "quantitative"},
            "y": {"datum": 1.08213, "type": "quantitative"}
          }
        },
        {
          "data": {"values": [{}]},
          "mark": {"type": "text", "text": "Research © 2016 TRADING CENTRAL", "align": "left", "baseline": "alphabetic", "fontSize": 10, "font": "Liberation Sans", "color": "#222222"},
          "encoding": {
            "x": {"datum": -0.15, "type": "quantitative"},
            "y": {"datum": 1.0805, "type": "quantitative"}
          }
        }
      ]
    },
    {
      "width": 495,
      "height": 72,
      "layer": [
        {
          "data": {"name": "rsi"},
          "mark": {"type": "line", "strokeWidth": 1.2, "clip": true},
          "encoding": {
            "x": {"field": "t", "type": "quantitative", "scale": {"domain": [-0.1595, 5.9141], "nice": false, "zero": false},
                  "axis": {"orient": "bottom", "values": [0, 1, 2, 3, 4, 5], "labelExpr": "['15','16','17','18','21','22'][datum.value]", "labelAlign": "left", "labelDx": 2, "labelBaseline": "top", "labelPadding": -2, "tickSize": 5, "labelFontSize": 10.5, "domainWidth": 1.5, "grid": false}},
            "y": {"field": "v", "type": "quantitative", "scale": {"domain": [20, 80], "nice": false, "zero": false},
                  "axis": {"orient": "right", "values": [70, 50, 30], "labelExpr": "datum.value == 50 ? '' : datum.label", "tickSize": 4, "labelPadding": 10, "domainWidth": 1.2}},
            "stroke": {"field": "s", "type": "nominal", "legend": null, "scale": {"domain": ["rsi", "ma"], "range": ["#1f1f8f", "#ff2a2a"]}}
          }
        },
        {
          "data": {"values": [{}]},
          "mark": {"type": "rule", "color": "#222222", "strokeWidth": 1.5, "clip": false},
          "encoding": {
            "x": {"datum": -0.1595, "type": "quantitative"},
            "x2": {"datum": 6.58},
            "y": {"datum": 8.5, "type": "quantitative"}
          }
        },
        {
          "data": {"values": [{}]},
          "mark": {"type": "text", "text": "RSI14 - 9MA", "align": "left", "baseline": "alphabetic", "fontSize": 10, "font": "Liberation Sans", "color": "#222222"},
          "encoding": {
            "x": {"datum": -0.15, "type": "quantitative"},
            "y": {"datum": 70.2, "type": "quantitative"}
          }
        },
        {
          "data": {"name": "rsitags"},
          "mark": {"type": "rect", "clip": false},
          "encoding": {
            "x": {"datum": 6.012, "type": "quantitative"},
            "x2": {"datum": 6.528},
            "y": {"field": "top", "type": "quantitative"},
            "y2": {"field": "bot"},
            "color": {"field": "k", "type": "nominal", "legend": null, "scale": {"domain": ["n", "r"], "range": ["#000080", "#ff0000"]}}
          }
        },
        {
          "data": {"name": "rsitags"},
          "transform": [{"filter": "datum.k == 'n'"}],
          "mark": {"type": "point", "shape": "triangle-left", "filled": true, "size": 130, "color": "#000080", "opacity": 1},
          "encoding": {
            "x": {"datum": 5.988, "type": "quantitative"},
            "y": {"field": "mid", "type": "quantitative"}
          }
        },
        {
          "data": {"name": "rsitags"},
          "mark": {"type": "text", "align": "left", "baseline": "middle", "fontSize": 10, "font": "Liberation Sans"},
          "encoding": {
            "x": {"datum": 6.049, "type": "quantitative"},
            "y": {"field": "mid", "type": "quantitative"},
            "text": {"field": "v"},
            "fill": {"field": "k", "type": "nominal", "legend": null, "scale": {"domain": ["n", "r"], "range": ["#ffffff", "#000000"]}}
          }
        }
      ]
    }
  ]
}
